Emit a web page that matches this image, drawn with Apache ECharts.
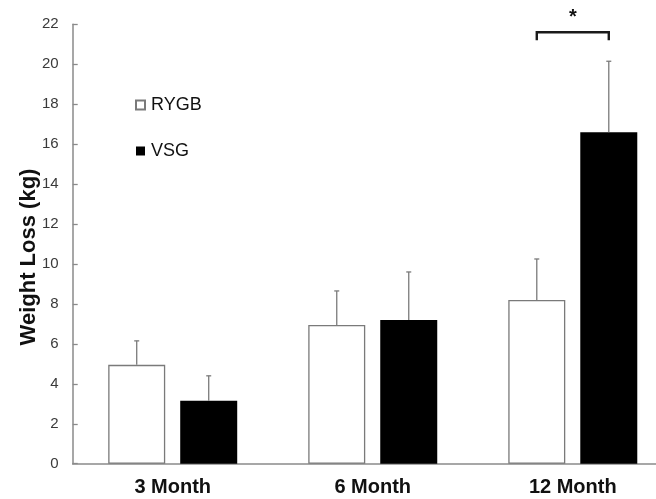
<!DOCTYPE html>
<html>
<head>
<meta charset="utf-8">
<script src="https://cdn.jsdelivr.net/npm/echarts@6/dist/echarts.min.js"></script>
<style>
  html, body { margin: 0; padding: 0; background: #fff; }
  #chart { width: 656px; height: 499px; }
</style>
</head>
<body>
<div id="chart"></div>
<script>
// Weight loss by follow-up time point, mean + SD
const categories = ['3 Month', '6 Month', '12 Month'];
const rygbMean = [4.95, 6.95, 8.2];
const rygbSD = [1.2, 1.7, 2.05];
const vsgMean = [3.15, 7.2, 16.6];
const vsgSD = [1.25, 2.4, 3.55];
const yTicks = { min: 0, max: 22, step: 2 };
// significance bracket: category index, bracket height, label
const sigCategory = 2;
const sigLevel = 21.6;
const sigLabel = '*';

const BAR_W = 57;
const BAR_GAP = 15;
const HALF = (BAR_W + BAR_GAP) / 2;
const FONT = '"Liberation Sans", Arial, Helvetica, sans-serif';
const AXIS_GREY = '#8a8a8a';

function errorRender(offset) {
  return function (params, api) {
    const cat = api.value(0);
    const mean = api.value(1);
    const sd = api.value(2);
    const base = api.coord([cat, mean]);
    const top = api.coord([cat, mean + sd]);
    const x = base[0] + offset;
    const cap = 2.5;
    return {
      type: 'group',
      children: [
        { type: 'line', shape: { x1: x, y1: base[1], x2: x, y2: top[1] },
          style: { stroke: '#7a7a7a', lineWidth: 1.3 } },
        { type: 'line', shape: { x1: x - cap, y1: top[1], x2: x + cap, y2: top[1] },
          style: { stroke: '#7a7a7a', lineWidth: 1.3 } }
      ]
    };
  };
}

function bracketRender(params, api) {
  const cat = api.value(0);
  const lvl = api.value(1);
  const c = api.coord([cat, lvl]);
  const lower = api.coord([cat, lvl - 0.4]);
  const above = api.coord([cat, lvl + 0.72]);
  const xl = c[0] - HALF, xr = c[0] + HALF;
  return {
    type: 'group',
    children: [
      { type: 'polyline',
        shape: { points: [[xl, lower[1]], [xl, c[1]], [xr, c[1]], [xr, lower[1]]] },
        style: { stroke: '#1a1a1a', lineWidth: 2.4, fill: null } },
      { type: 'text',
        style: { text: sigLabel, x: c[0], y: above[1], align: 'center', verticalAlign: 'middle',
                 font: 'bold 20px ' + FONT, fill: '#111' } }
    ]
  };
}

const chart = echarts.init(document.getElementById('chart'), null, { renderer: 'canvas' });
chart.setOption({
  animation: false,
  backgroundColor: '#fff',
  grid: { left: 72.7, right: -16.8, top: 24.3, bottom: 35.3, containLabel: false, outerBoundsMode: 'none' },
  legend: {
    orient: 'vertical',
    left: 130,
    top: 91,
    itemWidth: 9,
    itemHeight: 9,
    itemGap: 28,
    icon: 'rect',
    textStyle: { fontFamily: FONT, fontSize: 18, color: '#111', padding: [0, 0, 0, 1] },
    data: ['RYGB', 'VSG']
  },
  xAxis: {
    type: 'category',
    data: categories,
    axisLine: { lineStyle: { color: AXIS_GREY, width: 1.5 } },
    axisTick: { show: false },
    axisLabel: { fontFamily: FONT, fontSize: 20, fontWeight: 'bold', color: '#111', margin: 14 }
  },
  yAxis: {
    type: 'value',
    min: yTicks.min,
    max: yTicks.max,
    interval: yTicks.step,
    name: 'Weight Loss (kg)',
    nameLocation: 'middle',
    nameGap: 33,
    nameMoveOverlap: false,
    nameTextStyle: { fontFamily: FONT, fontSize: 22, fontWeight: 'bold', color: '#111', padding: [0, 26, 0, 0] },
    axisLine: { show: true, lineStyle: { color: AXIS_GREY, width: 1.5 } },
    axisTick: { show: true, inside: true, length: 5, lineStyle: { color: AXIS_GREY, width: 1.3 } },
    axisLabel: { fontFamily: FONT, fontSize: 15, color: '#3a3a3a', margin: 14 },
    splitLine: { show: false }
  },
  series: [
    {
      name: 'RYGB', type: 'bar', data: rygbMean,
      barWidth: BAR_W, barGap: (BAR_GAP / BAR_W * 100).toFixed(1) + '%',
      itemStyle: { color: '#fff', borderColor: '#7a7a7a', borderWidth: 1.3 }
    },
    {
      name: 'VSG', type: 'bar', data: vsgMean,
      barWidth: BAR_W,
      itemStyle: { color: '#000', borderColor: '#000', borderWidth: 0 }
    },
    {
      type: 'custom', name: 'RYGB SD', clip: false, z: 3,
      renderItem: errorRender(-HALF),
      data: rygbMean.map((m, i) => [i, m, rygbSD[i]])
    },
    {
      type: 'custom', name: 'VSG SD', clip: false, z: 3,
      renderItem: errorRender(HALF),
      data: vsgMean.map((m, i) => [i, m, vsgSD[i]])
    },
    {
      type: 'custom', name: 'significance', clip: false, z: 4,
      renderItem: bracketRender,
      data: [[sigCategory, sigLevel]]
    }
  ]
});
</script>
</body>
</html>
